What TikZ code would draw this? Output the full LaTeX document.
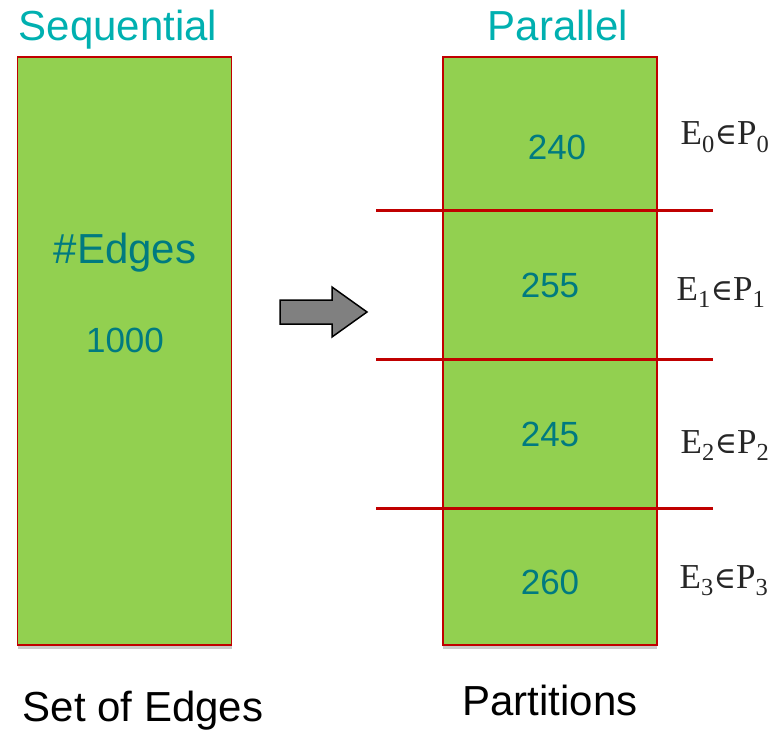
\documentclass[tikz,border=0pt]{standalone}
\usepackage{fontspec}
\setmainfont{Liberation Sans}
\newfontfamily\lblserif{Liberation Serif}
\newfontfamily\lblsym{DejaVu Serif}
\usetikzlibrary{shadows}
\definecolor{boxgreen}{RGB}{146,208,80}
\definecolor{boxred}{RGB}{192,0,0}
\definecolor{numteal}{RGB}{0,122,128}
\definecolor{titleteal}{RGB}{0,176,176}
\definecolor{arrowgray}{RGB}{128,128,128}
\newcommand{\partlbl}[1]{E\textsubscript{#1}{\lblsym\fontsize{30}{36}\selectfont ∈}P\textsubscript{#1}}
\tikzset{
  x=1pt, y=-1pt,
  edgebox/.style={draw=boxred, line width=1.8pt, fill=boxgreen, inner sep=0pt,
    minimum width=214pt, minimum height=588pt,
    drop shadow={shadow xshift=0pt, shadow yshift=-4pt, opacity=0.35, fill=black!60}},
  title/.style={text=titleteal, anchor=base, inner sep=0pt, font=\fontsize{42}{50}\selectfont},
  bigtxt/.style={text=numteal, anchor=base, inner sep=0pt, font=\fontsize{42}{50}\selectfont},
  numtxt/.style={text=numteal, anchor=base, inner sep=0pt, font=\fontsize{35}{42}\selectfont},
  captxt/.style={text=black, anchor=base, inner sep=0pt, font=\fontsize{42}{50}\selectfont},
  mathlbl/.style={text=black!85, anchor=base, inner sep=0pt, font=\lblserif\fontsize{35}{42}\selectfont},
  cutline/.style={draw=boxred, line width=3pt},
  blockarrow/.style={draw=black, line width=1.5pt, fill=arrowgray, line join=miter}
}
\begin{document}
\begin{tikzpicture}
\useasboundingbox (0,0) rectangle (782,730);
% boxes
\node[edgebox] (seq) at (124.5,351) {};
\node[edgebox] (par) at (550,351) {};
% titles
\node[title] (tseq) at (118,41) {Sequential};
\node[title] (tpar) at (558,41) {Parallel};
% left box text
\node[bigtxt] (edges) at (125,263) {\#Edges};
\node[numtxt] (n1000) at (125,352) {1000};
% partition lines
\coordinate (l1a) at (376,211); \coordinate (l1b) at (713,211);
\coordinate (l2a) at (376,359); \coordinate (l2b) at (713,359);
\coordinate (l3a) at (376,508); \coordinate (l3b) at (713,508);
\draw[cutline] (l1a) -- (l1b);
\draw[cutline] (l2a) -- (l2b);
\draw[cutline] (l3a) -- (l3b);
% partition numbers
\node[numtxt] (p0) at (557,160) {240};
\node[numtxt] (p1) at (550,298) {255};
\node[numtxt] (p2) at (550,446) {245};
\node[numtxt] (p3) at (550,594) {260};
% labels
\node[mathlbl] (e0) at (725,145) {\partlbl{0}};
\node[mathlbl] (e1) at (721,300) {\partlbl{1}};
\node[mathlbl] (e2) at (725,453) {\partlbl{2}};
\node[mathlbl] (e3) at (724,588) {\partlbl{3}};
% block arrow
\draw[blockarrow] (280,300) -- (332,300) -- (332,287) -- (367,312) -- (332,337) -- (332,324) -- (280,324) -- cycle;
% captions
\node[captxt] (cseq) at (143,721) {Set of Edges};
\node[captxt] (cpar) at (550,715) {Partitions};
\end{tikzpicture}
\end{document}
